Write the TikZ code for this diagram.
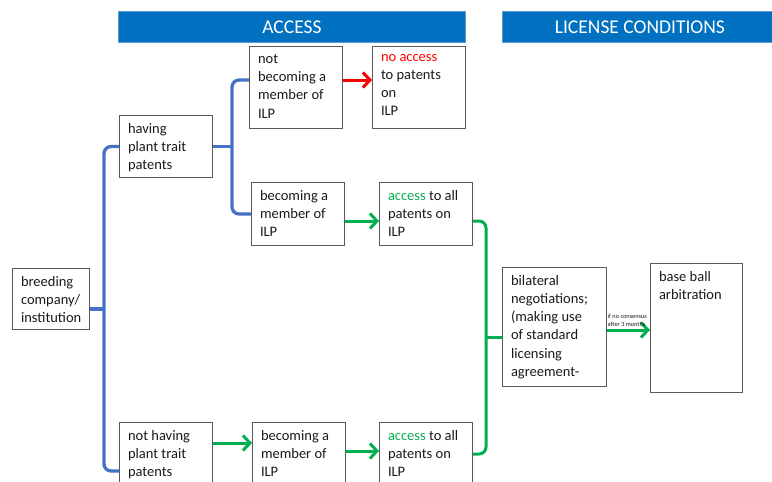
\documentclass[tikz,border=0pt]{standalone}
\usepackage{fontspec}
\setmainfont{Carlito}
\usetikzlibrary{arrows.meta}
\definecolor{banner}{HTML}{0070C0}
\definecolor{bannerline}{HTML}{5B9BD5}
\definecolor{bluel}{HTML}{4472C4}
\definecolor{greenl}{HTML}{00B050}
\definecolor{redl}{HTML}{FF0000}
\definecolor{boxgray}{HTML}{595959}
\definecolor{txt}{HTML}{1A1A1A}
\newcommand\bxt[3]{\parbox[c][#2pt][t]{#1pt}{\raggedright #3}}
\newcommand\bodyfont{\fontsize{14.5}{18.3}\selectfont}
\tikzset{
  box/.style={draw=boxgray, line width=1pt, inner xsep=8.5pt, inner ysep=7.5pt, anchor=north west, font=\bodyfont, text=txt},
  bannerbox/.style={fill=banner, draw=bannerline, line width=0.8pt, text=white, font=\fontsize{19.5}{22}\selectfont, inner sep=0pt},
  bl/.style={draw=bluel, line width=3.3pt, rounded corners=7pt},
  gr/.style={draw=greenl, line width=3pt, rounded corners=7pt},
  garrow/.style={draw=greenl, line width=3pt, -{Straight Barb[length=7pt,width=15pt]}},
  rarrow/.style={draw=redl, line width=3pt, -{Straight Barb[length=7pt,width=15pt]}},
}
\begin{document}
\begin{tikzpicture}[x=1pt,y=-1pt]
\useasboundingbox (0,0) rectangle (772,482);
% banners
\node[bannerbox, minimum width=347pt, minimum height=31pt, anchor=north west] (acc) at (118,11) {ACCESS};
\node[bannerbox, minimum width=275pt, minimum height=31pt, anchor=north west] (lic) at (502,11) {LICENSE CONDITIONS};
% boxes
\node[box] (brd) at (12,268) {\bxt{60}{46}{breeding\\company/\\institution}};
\node[box] (hav) at (119,115) {\bxt{76}{47}{having\\plant trait\\patents}};
\node[box] (nhv) at (119,422) {\bxt{76}{49}{not having\\plant trait\\patents}};
\node[box] (nbm) at (249,46) {\bxt{76}{67}{not\\becoming a\\member of\\ILP}};
\node[box] (nac) at (372,46) {\bxt{76}{67}{\textcolor{redl}{no access}\\to patents\\on\\ILP}};
\node[box] (bm1) at (251,182) {\bxt{76}{48}{becoming a\\member of\\ILP}};
\node[box] (ac1) at (379,182) {\bxt{76}{48}{\textcolor{greenl}{access} to all\\patents on\\ILP}};
\node[box] (bm2) at (252,422) {\bxt{76}{49}{becoming a\\member of\\ILP}};
\node[box] (ac2) at (379,422) {\bxt{76}{49}{\textcolor{greenl}{access} to all\\patents on\\ILP}};
\node[box] (bil) at (502,267) {\bxt{87}{104}{bilateral\\negotiations;\\(making use\\of standard\\licensing\\agreement-}};
\node[box] (bsb) at (650,263) {\bxt{75}{114}{base ball\\arbitration}};
% helper coordinates
\coordinate (j1) at (104,309);
\coordinate (y471) at (0,471);
\coordinate (j2) at (232,147);
\coordinate (y80) at (0,80);
\coordinate (j3) at (486,337);
\coordinate (y221) at (0,221);
\coordinate (y454) at (0,454);
\coordinate (y443) at (0,443);
\coordinate (y451) at (0,451);
\coordinate (y330) at (0,330);
% blue brackets
\draw[bl] (hav.west) -| (j1) |- (nhv.west |- y471);
\draw[bl] (brd.east |- j1) -- (j1);
\draw[bl] (nbm.west |- y80) -| (j2) |- (bm1.west);
\draw[bl] (hav.east) -- (hav.east -| j2);
% green bracket
\draw[gr] (ac1.east |- y221) -| (j3) |- (ac2.east |- y454);
\draw[gr] (j3) -- (bil.west |- j3);
% arrows
\draw[rarrow] (nbm.east |- y80) -- (nac.west |- y80);
\draw[garrow] (bm1.east |- y221) -- (ac1.west |- y221);
\draw[garrow] (nhv.east |- y443) -- (bm2.west |- y443);
\draw[garrow] (bm2.east |- y451) -- (ac2.west |- y451);
\draw[garrow] (bil.east |- y330) -- (bsb.west |- y330);
\node[anchor=south west, inner sep=0pt, align=left, font=\fontsize{6.3}{7.5}\selectfont, text=txt] (lbl) at ([xshift=0.5pt,yshift=3.5pt]bil.east |- y330) {if no consensus\\after 3 months};
\end{tikzpicture}
\end{document}
